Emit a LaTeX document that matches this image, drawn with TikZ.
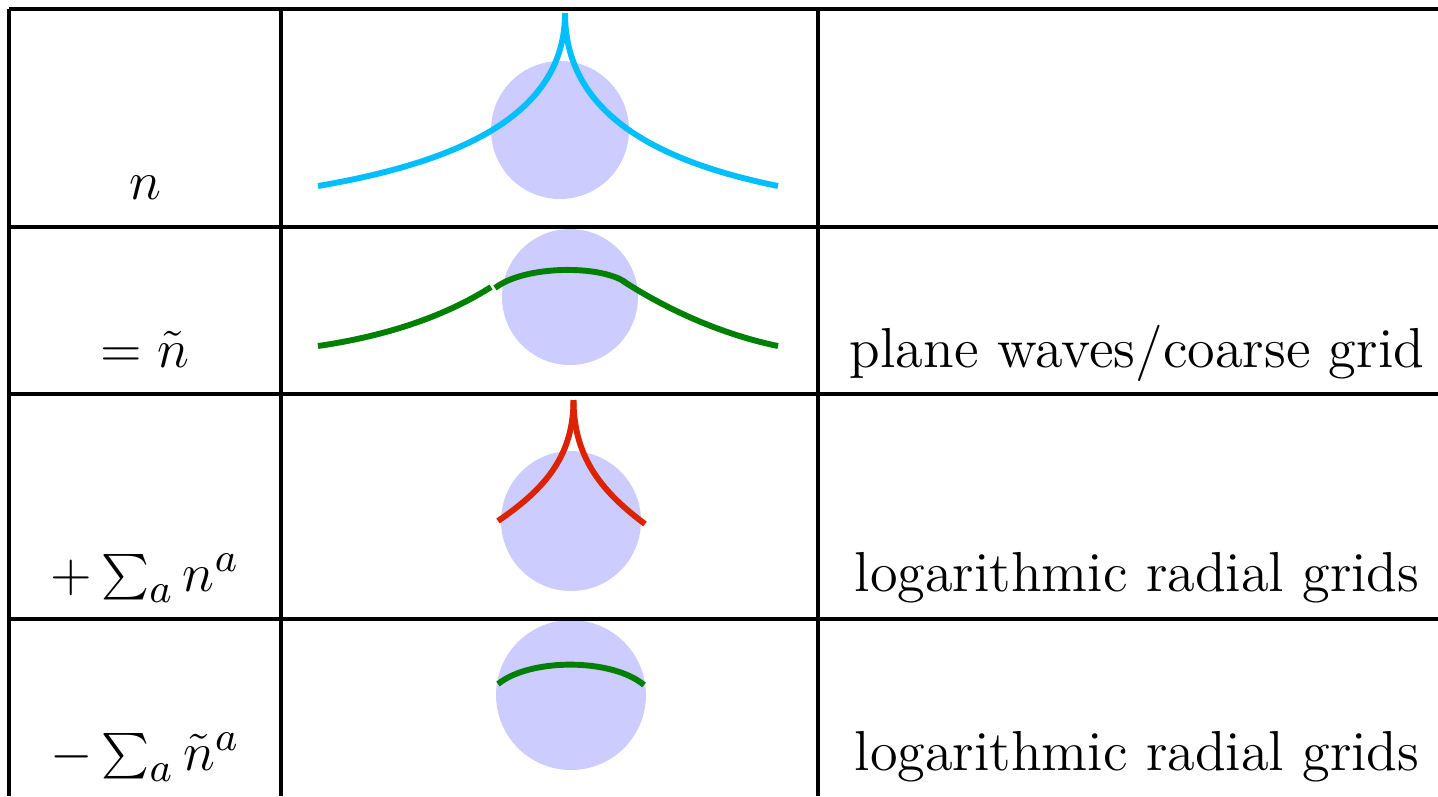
\documentclass[tikz,border=0pt]{standalone}
\begin{document}
\begin{tikzpicture}[x=0.22pt,y=-0.22pt,
  grid/.style={line width=0.78pt,black},
  ball/.style={fill=ballc,draw=none},
  curve/.style={line width=1.3pt},
  lbl/.style={anchor=base,inner sep=0pt,font=\fontsize{12.4}{15}\selectfont}]
\definecolor{ballc}{HTML}{CCCCFF}
\definecolor{cyanc}{HTML}{00BFFF}
\definecolor{greenc}{HTML}{008000}
\definecolor{redc}{HTML}{DD2200}
\useasboundingbox (0,0) rectangle (1438,796);
% balls
\fill[ball] (560,130) circle (69);
\fill[ball] (570,297) circle (68);
\fill[ball] (571,521) circle (70);
\fill[ball] (571,695) circle (75);
% row 1: cyan cusp
\draw[curve,cyanc] (318,186) .. controls (470,160) and (565,110) .. (565,13);
\draw[curve,cyanc] (778,186) .. controls (650,160) and (565,110) .. (565,13);
% row 2: green smooth
\draw[curve,greenc] (318,346) .. controls (400,334) and (455,310) .. (491,287);
\draw[curve,greenc] (495,288) .. controls (525,265) and (600,265) .. (625,282);
\draw[curve,greenc] (623,281) .. controls (660,305) and (715,333) .. (778,346);
% row 3: red cusp
\draw[curve,redc] (498,521) .. controls (540,492) and (573.5,460) .. (573.5,400);
\draw[curve,redc] (645,524) .. controls (605,494) and (573.5,460) .. (573.5,400);
% row 4: green arc
\draw[curve,greenc] (498,684) .. controls (530,658) and (612,658) .. (644,685);
% table lines
\draw[grid] (9,9) -- (1438,9);
\draw[grid] (9,227) -- (1438,227);
\draw[grid] (9,394) -- (1438,394);
\draw[grid] (9,619) -- (1438,619);
\draw[grid] (9,9) -- (9,796);
\draw[grid] (281,9) -- (281,796);
\draw[grid] (818,9) -- (818,796);
% labels
\node[lbl] (l1) at (145,199) {$n$};
\node[lbl] (l2) at (145,367) {$=\tilde{n}$};
\node[lbl] (l3) at (145,591) {$+\sum_a n^a$};
\node[lbl] (l4) at (145,770) {$-\sum_a \tilde{n}^a$};
\node[lbl] (r2) at (1137,367) {plane waves/coarse grid};
\node[lbl] (r3) at (1137,591) {logarithmic radial grids};
\node[lbl] (r4) at (1137,770) {logarithmic radial grids};
\end{tikzpicture}
\end{document}
